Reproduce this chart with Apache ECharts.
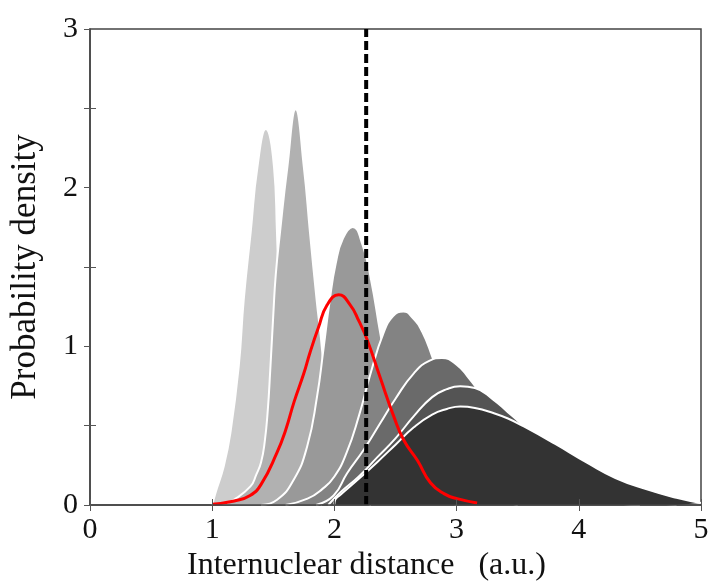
<!DOCTYPE html>
<html>
<head>
<meta charset="utf-8">
<script src="https://cdn.jsdelivr.net/npm/echarts@6/dist/echarts.min.js"></script>
<style>
html,body{margin:0;padding:0;background:#fff;}
#chart{width:710px;height:581px;}
</style>
</head>
<body>
<div id="chart"></div>
<script>
// Probability density curves (x in a.u., y density)
var curveA = [[1.0,0],[1.026,0.075],[1.094,0.243],[1.149,0.454],[1.217,0.873],[1.258,1.294],[1.315,1.72],[1.37,2.13],[1.438,2.37],[1.506,2.13],[1.53,1.72],[1.55,1.29],[1.6,0.8],[1.7,0.3],[1.8,0.08],[1.9,0]];
var curveB = [[1.1,0.01],[1.176,0.033],[1.313,0.117],[1.36,0.19],[1.40,0.27],[1.43,0.40],[1.455,0.6],[1.475,0.85],[1.50,1.2],[1.52,1.45],[1.555,1.72],[1.615,2.13],[1.683,2.495],[1.75,2.13],[1.80,1.72],[1.855,1.29],[1.89,1.05],[1.95,0.6],[2.05,0.25],[2.2,0.05],[2.3,0]];
var curveC = [[1.4,0],[1.531,0.033],[1.667,0.159],[1.777,0.369],[1.858,0.684],[1.91,0.98],[1.96,1.28],[2.01,1.52],[2.07,1.68],[2.15,1.752],[2.23,1.64],[2.30,1.42],[2.376,1.08],[2.45,0.78],[2.55,0.48],[2.7,0.2],[2.9,0.04],[3.0,0]];
var curveD = [[1.6,0],[1.78,0.04],[1.9,0.1],[2.0,0.18],[2.1,0.33],[2.2,0.56],[2.3,0.84],[2.4,1.08],[2.48,1.19],[2.564,1.22],[2.64,1.18],[2.72,1.09],[2.80,0.937],[2.9,0.72],[3.0,0.5],[3.2,0.18],[3.4,0.03],[3.5,0]];
var curveE = [[1.85,0],[1.994,0.06],[2.104,0.2],[2.24,0.348],[2.376,0.517],[2.5,0.67],[2.65,0.83],[2.78,0.91],[2.88,0.926],[3.0,0.885],[3.1,0.80],[3.2,0.70],[3.35,0.55],[3.5,0.4],[3.8,0.16],[4.2,0.03],[4.5,0]];
var curveF = [[1.95,0],[2.05,0.08],[2.2,0.18],[2.35,0.30],[2.5,0.42],[2.65,0.56],[2.8,0.68],[2.92,0.73],[3.03,0.748],[3.15,0.737],[3.3,0.664],[3.42,0.585],[3.52,0.517],[3.7,0.38],[3.9,0.25],[4.2,0.1],[4.5,0.03],[4.8,0]];
var curveG = [[2.0,0],[2.005,0.03],[2.05,0.065],[2.2,0.165],[2.35,0.27],[2.5,0.38],[2.65,0.49],[2.8,0.57],[2.92,0.605],[3.03,0.621],[3.15,0.612],[3.3,0.58],[3.42,0.545],[3.55,0.495],[3.8,0.388],[4.07,0.265],[4.3,0.17],[4.55,0.1],[4.8,0.045],[5.0,0.012]];
var redCurve = [[1.0,0.005],[1.18,0.025],[1.31,0.06],[1.40,0.13],[1.53,0.33],[1.60,0.47],[1.67,0.65],[1.75,0.83],[1.80,0.96],[1.87,1.12],[1.94,1.26],[2.035,1.325],[2.13,1.26],[2.20,1.16],[2.268,1.042],[2.376,0.80],[2.485,0.56],[2.567,0.41],[2.68,0.28],[2.786,0.14],[2.90,0.07],[3.004,0.04],[3.168,0.013]];
var dashedX = 2.26;
var yRange = [0, 3];
var xRange = [0, 5];
var fillColors = ['#cdcdcd','#b1b1b1','#999999','#838383','#6a6a6a','#545454','#333333'];
var curves = [curveA, curveB, curveC, curveD, curveE, curveF, curveG];

var fontFam = 'Liberation Serif';
var series = curves.map(function(c, i){
  return {
    type: 'line', data: c, smooth: 0.5, showSymbol: false, silent: true,
    lineStyle: {color: '#ffffff', width: 2},
    areaStyle: {color: fillColors[i], opacity: 1},
    z: 2 + i
  };
});
series.push({
  type: 'line', data: redCurve, smooth: 0.5, showSymbol: false, silent: true,
  lineStyle: {color: '#ff0000', width: 3}, z: 20
});
series.push({
  type: 'line', data: [[dashedX, yRange[0]], [dashedX, yRange[1]]], showSymbol: false, silent: true,
  lineStyle: {color: '#000000', width: 4, type: [9, 4]}, z: 21
});

var chart = echarts.init(document.getElementById('chart'), null, {renderer: 'canvas'});
chart.setOption({
  animation: false,
  backgroundColor: '#ffffff',
  grid: {left: 90, right: 9, top: 29, bottom: 76, containLabel: false, outerBoundsMode: 'none',
    show: true, borderColor: '#444', borderWidth: 1.5, backgroundColor: 'transparent'},
  xAxis: [{
    type: 'value', min: xRange[0], max: xRange[1], interval: 1,
    axisLine: {show: true, lineStyle: {color: '#444', width: 1.5}},
    axisTick: {show: true, inside: true, length: 6, lineStyle: {color: '#555', width: 1}},
    splitLine: {show: false},
    axisLabel: {fontFamily: fontFam, fontSize: 30, color: '#111', margin: 10},
    name: 'Internuclear distance   (a.u.)', nameLocation: 'middle', nameGap: 40,
    nameTextStyle: {fontFamily: fontFam, fontSize: 32, color: '#111', padding: [0, 58, 0, 0]},
    z: 30
  }, {
    type: 'value', position: 'top', min: xRange[0], max: xRange[1], interval: 1,
    axisLine: {show: false},
    axisTick: {show: true, inside: true, length: 6, lineStyle: {color: '#555', width: 1}},
    axisLabel: {show: false}, splitLine: {show: false}, z: 30
  }],
  yAxis: [{
    type: 'value', min: yRange[0], max: yRange[1], interval: 1,
    axisLine: {show: false},
    axisTick: {show: false, inside: true},
    minorTick: {show: true, splitNumber: 2, length: 6, lineStyle: {color: '#555', width: 1}},
    splitLine: {show: false}, minorSplitLine: {show: false},
    axisLabel: {fontFamily: fontFam, fontSize: 30, color: '#111', margin: 12},
    name: 'Probability density', nameLocation: 'middle', nameGap: 47,
    nameTextStyle: {fontFamily: fontFam, fontSize: 35, color: '#111'},
    z: 30
  }, {
    type: 'value', position: 'right', min: yRange[0], max: yRange[1], interval: 0.5,
    axisLine: {show: true, lineStyle: {color: '#444', width: 1.5}},
    axisTick: {show: true, inside: true, length: 6, lineStyle: {color: '#555', width: 1}},
    axisLabel: {show: false}, splitLine: {show: false}, z: 30
  }],
  series: series
});
</script>
</body>
</html>
